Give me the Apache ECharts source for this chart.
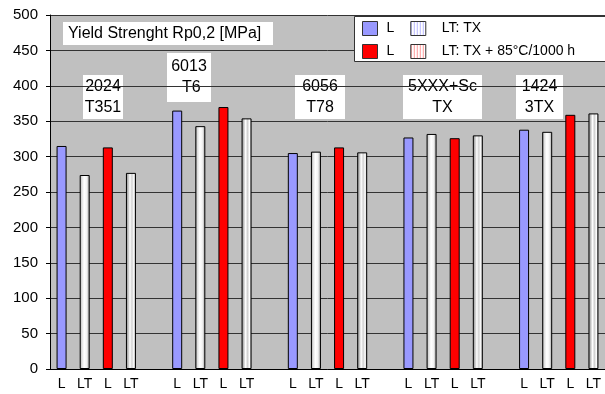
<!DOCTYPE html>
<html><head><meta charset="utf-8">
<script src="https://cdn.jsdelivr.net/npm/echarts@6/dist/echarts.min.js"></script>
<style>html,body{margin:0;padding:0;background:#fff}#c{width:605px;height:394px}</style>
</head><body><div id="c"></div>
<script>
// ---- data ----
const groups = ['2024\nT351', '6013\n T6', '6056\nT78', '5XXX+Sc\nTX', '1424\n3TX'];
const barLabels = ['L', 'LT', 'L', 'LT'];
const L_TX  = [315, 365, 305, 327, 338];   // L (blue)
const LT_TX = [274, 343, 307, 332, 335];   // LT: TX
const L_85  = [313, 370, 313, 326, 359];   // L (red)
const LT_85 = [277, 354, 306, 330, 361];   // LT: TX + 85°C/1000 h
const seriesNames = ['L', 'LT: TX', 'L', 'LT: TX + 85°C/1000 h'];

// ---- build slots (4 bars + 1 gap per group) ----
const cats = [], tickLabels = [];
const sData = [[], [], [], []];
const vals = [L_TX, LT_TX, L_85, LT_85];
groups.forEach((g, gi) => {
  for (let b = 0; b < 4; b++) {
    cats.push('c' + cats.length); tickLabels.push(barLabels[b]);
    for (let s = 0; s < 4; s++) sData[s].push(s === b ? vals[s][gi] : '-');
  }
  if (gi < groups.length - 1) {
    cats.push('c' + cats.length); tickLabels.push('');
    for (let s = 0; s < 4; s++) sData[s].push('-');
  }
});

function stripe(col) {
  const c = document.createElement('canvas'); c.width = 3; c.height = 4;
  const x = c.getContext('2d');
  x.fillStyle = '#fff'; x.fillRect(0, 0, 3, 4);
  x.fillStyle = col; x.fillRect(0, 0, 1, 4);
  return { image: c, repeat: 'repeat' };
}
const ltGrad1 = { type: 'linear', x: 0, y: 0, x2: 1, y2: 0, colorStops: [
  { offset: 0, color: '#8a8a8a' }, { offset: 0.2, color: '#dcdcdc' }, { offset: 0.45, color: '#ffffff' },
  { offset: 0.7, color: '#f2f2f2' }, { offset: 1, color: '#9a9a9a' }] };
const ltGrad2 = { type: 'linear', x: 0, y: 0, x2: 1, y2: 0, colorStops: [
  { offset: 0, color: '#8a8a8a' }, { offset: 0.25, color: '#c8c8c8' }, { offset: 0.4, color: '#ffffff' },
  { offset: 0.6, color: '#d0d0d0' }, { offset: 0.8, color: '#ffffff' }, { offset: 1, color: '#8a8a8a' }] };
const fills = ['#9999FF', ltGrad1, '#FF0000', ltGrad2];
const keys = ['s0', 's1', 's2', 's3'];

const chart = echarts.init(document.getElementById('c'), null, { renderer: 'canvas' });
const legendCommon = {
  orient: 'horizontal', itemWidth: 15, itemHeight: 14, itemGap: 16, padding: 0, icon: 'rect',
  selectedMode: false, z: 20,
  formatter: n => (n === 's0' || n === 's2') ? '{l|' + seriesNames[keys.indexOf(n)] + '}' : '{t|' + seriesNames[keys.indexOf(n)] + '}',
  textStyle: { fontFamily: 'Liberation Sans, Arial', fontSize: 14, color: '#000',
    rich: { l: { padding: [0, 0, 0, 4], fontSize: 14, fontFamily: 'Liberation Sans, Arial' },
            t: { padding: [0, 0, 0, 11], fontSize: 14, fontFamily: 'Liberation Sans, Arial' } } }
};
function annot(x, y, w, h, txt) {
  return { type: 'group', z: 50, children: [
    { type: 'rect', shape: { x: x, y: y, width: w, height: h }, style: { fill: '#fff' } },
    { type: 'text', x: x + w / 2, y: y + h / 2, style: { text: txt, fill: '#000', align: 'center', verticalAlign: 'middle',
      font: '16px "Liberation Sans", Arial', lineHeight: 21 } }
  ] };
}
chart.setOption({
  animation: false,
  backgroundColor: '#fff',
  grid: { left: 50, right: -2, top: 15, bottom: 25, show: true, backgroundColor: '#C0C0C0', borderWidth: 0 },
  xAxis: { type: 'category', data: cats,
    axisLine: { show: true, lineStyle: { color: '#000', width: 1 } }, axisTick: { show: false },
    axisLabel: { interval: 0, margin: 8, color: '#000', fontSize: 14, fontFamily: 'Liberation Sans, Arial',
      formatter: (v, i) => tickLabels[i] } },
  yAxis: { type: 'value', min: 0, max: 500, interval: 50,
    axisLine: { show: true, lineStyle: { color: '#000', width: 1 } },
    axisTick: { show: true, length: 4, lineStyle: { color: '#000' } },
    splitLine: { show: true, lineStyle: { color: '#333', width: 1 } },
    axisLabel: { margin: 12, color: '#000', fontSize: 15, fontFamily: 'Liberation Sans, Arial' } },
  legend: [
    Object.assign({}, legendCommon, { left: 362, top: 21, data: [
      { name: 's0', itemStyle: { color: '#9999FF', borderColor: '#333', borderWidth: 1 } },
      { name: 's1', itemStyle: { color: stripe('#b8b8ff'), borderColor: '#333', borderWidth: 1 } }] }),
    Object.assign({}, legendCommon, { left: 362, top: 44, data: [
      { name: 's2', itemStyle: { color: '#FF0000', borderColor: '#333', borderWidth: 1 } },
      { name: 's3', itemStyle: { color: stripe('#ff9a9a'), borderColor: '#333', borderWidth: 1 } }] })
  ],
  graphic: [
    { type: 'rect', z: 10, shape: { x: 354.5, y: 16.5, width: 270, height: 45 }, style: { fill: '#fff', stroke: '#333', lineWidth: 1 } },
    { type: 'group', z: 50, children: [
      { type: 'rect', shape: { x: 63, y: 22, width: 210, height: 23 }, style: { fill: '#fff' } },
      { type: 'text', x: 68, y: 33.5, style: { text: 'Yield Strenght Rp0,2 [MPa]', fill: '#000', verticalAlign: 'middle',
        font: '16px "Liberation Sans", Arial' } }] },
    annot(83, 75, 40, 44, groups[0]),
    annot(167, 53, 44, 49, groups[1]),
    annot(295, 75, 50, 44, groups[2]),
    annot(403, 75, 79, 44, groups[3]),
    annot(516, 75, 47, 44, groups[4])
  ],
  series: keys.map((k, s) => ({
    name: k, type: 'bar', data: sData[s], barWidth: 10, barGap: '-100%',
    itemStyle: { color: fills[s], borderColor: '#000', borderWidth: 1 }
  }))
});
</script></body></html>
